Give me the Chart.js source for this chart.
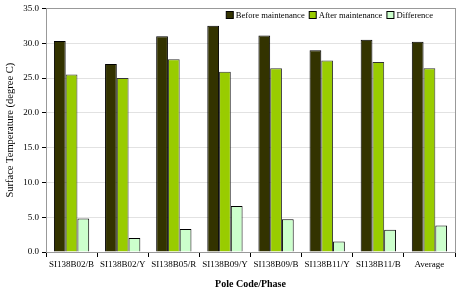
<!DOCTYPE html>
<html><head><meta charset="utf-8">
<script src="https://cdn.jsdelivr.net/npm/chart.js@4"></script>
<style>html,body{margin:0;padding:0;background:#fff}#w{width:464px;height:292px}</style>
</head><body><div id="w"><canvas id="c" width="464" height="292"></canvas></div>
<script>
const categories = ["SI138B02/B","SI138B02/Y","SI138B05/R","SI138B09/Y","SI138B09/B","SI138B11/Y","SI138B11/B","Average"];
const beforeMaint = [30.3, 27.0, 31.0, 32.5, 31.1, 29.0, 30.5, 30.2];
const afterMaint  = [25.5, 25.0, 27.7, 25.9, 26.4, 27.5, 27.3, 26.4];
const difference  = [4.8, 2.0, 3.3, 6.6, 4.7, 1.5, 3.2, 3.8];
const yTicks = [0,5,10,15,20,25,30,35];

const FONT = "'Liberation Serif','Times New Roman',serif";
const frame = {
  id:'frame',
  beforeDatasetsDraw(chart){
    const {ctx, chartArea:a} = chart;
    ctx.save();
    ctx.strokeStyle='#999';ctx.lineWidth=1;
    ctx.strokeRect(Math.round(a.left)+0.5, Math.round(a.top)+0.5, Math.round(a.right-a.left), Math.round(a.bottom-a.top));
    ctx.restore();
  },
  afterDraw(chart){
    const {ctx, chartArea:a} = chart;
    ctx.save();
    ctx.font = "8.6px " + FONT;
    ctx.textBaseline='middle';
    const ds = chart.data.datasets;
    const box=7, gap=3, sep=4;
    let total=0;
    const widths = ds.map(d=>ctx.measureText(d.label).width);
    widths.forEach(w=>total+=box+gap+w);
    total += sep*(ds.length-1);
    let x = a.right - 22 - total;
    const y = 15;
    ds.forEach((d,i)=>{
      ctx.fillStyle=d.backgroundColor;
      ctx.fillRect(x+0.5, y-3.5, box, box);
      ctx.strokeStyle='#000';ctx.lineWidth=1;
      ctx.strokeRect(x+0.5, y-3.5, box, box);
      x += box+gap;
      ctx.fillStyle='#000';
      ctx.fillText(d.label, x, y+0.5);
      x += widths[i]+sep;
    });
    ctx.restore();
  }
};
new Chart(document.getElementById('c'), {
  type:'bar',
  data:{labels:categories, datasets:[
    {label:'Before maintenance', data:beforeMaint, backgroundColor:'#333300', borderColor:'#000', borderWidth:1},
    {label:'After maintenance', data:afterMaint, backgroundColor:'#99cc00', borderColor:'#333', borderWidth:1},
    {label:'Difference', data:difference, backgroundColor:'#ccffcc', borderColor:'#000', borderWidth:1}
  ]},
  options:{
    responsive:false, animation:false,
    layout:{padding:{top:4,right:9,left:4,bottom:0}},
    datasets:{bar:{categoryPercentage:0.69, barPercentage:1.0}},
    plugins:{
      legend:{display:false},
      tooltip:{enabled:false}
    },
    scales:{
      x:{
        offset:true,
        grid:{offset:true, drawOnChartArea:false, drawTicks:true, tickLength:5, color:'#000'},
        border:{color:'#000'},
        ticks:{font:{family:FONT,size:9}, color:'#000', maxRotation:0, autoSkip:false, padding:2},
        title:{display:true, text:'Pole Code/Phase', font:{family:FONT,size:10,weight:'bold'}, color:'#000', padding:{top:6,bottom:2}},
        afterFit(s){s.height=40;}
      },
      y:{
        min:0, max:35,
        afterBuildTicks(s){s.ticks=yTicks.map(v=>({value:v}));},
        grid:{color:'#e2e2e2', tickLength:4, drawTicks:true, tickColor:'#000'},
        border:{color:'#000'},
        ticks:{font:{family:FONT,size:9}, color:'#000', padding:3, callback:v=>Number(v).toFixed(1)},
        title:{display:true, text:'Surface Temperature (degree C)', font:{family:FONT,size:10.5}, color:'#000', padding:{top:0,bottom:3}},
        afterFit(s){s.width=42;}
      }
    }
  },
  plugins:[frame]
});
</script></body></html>
